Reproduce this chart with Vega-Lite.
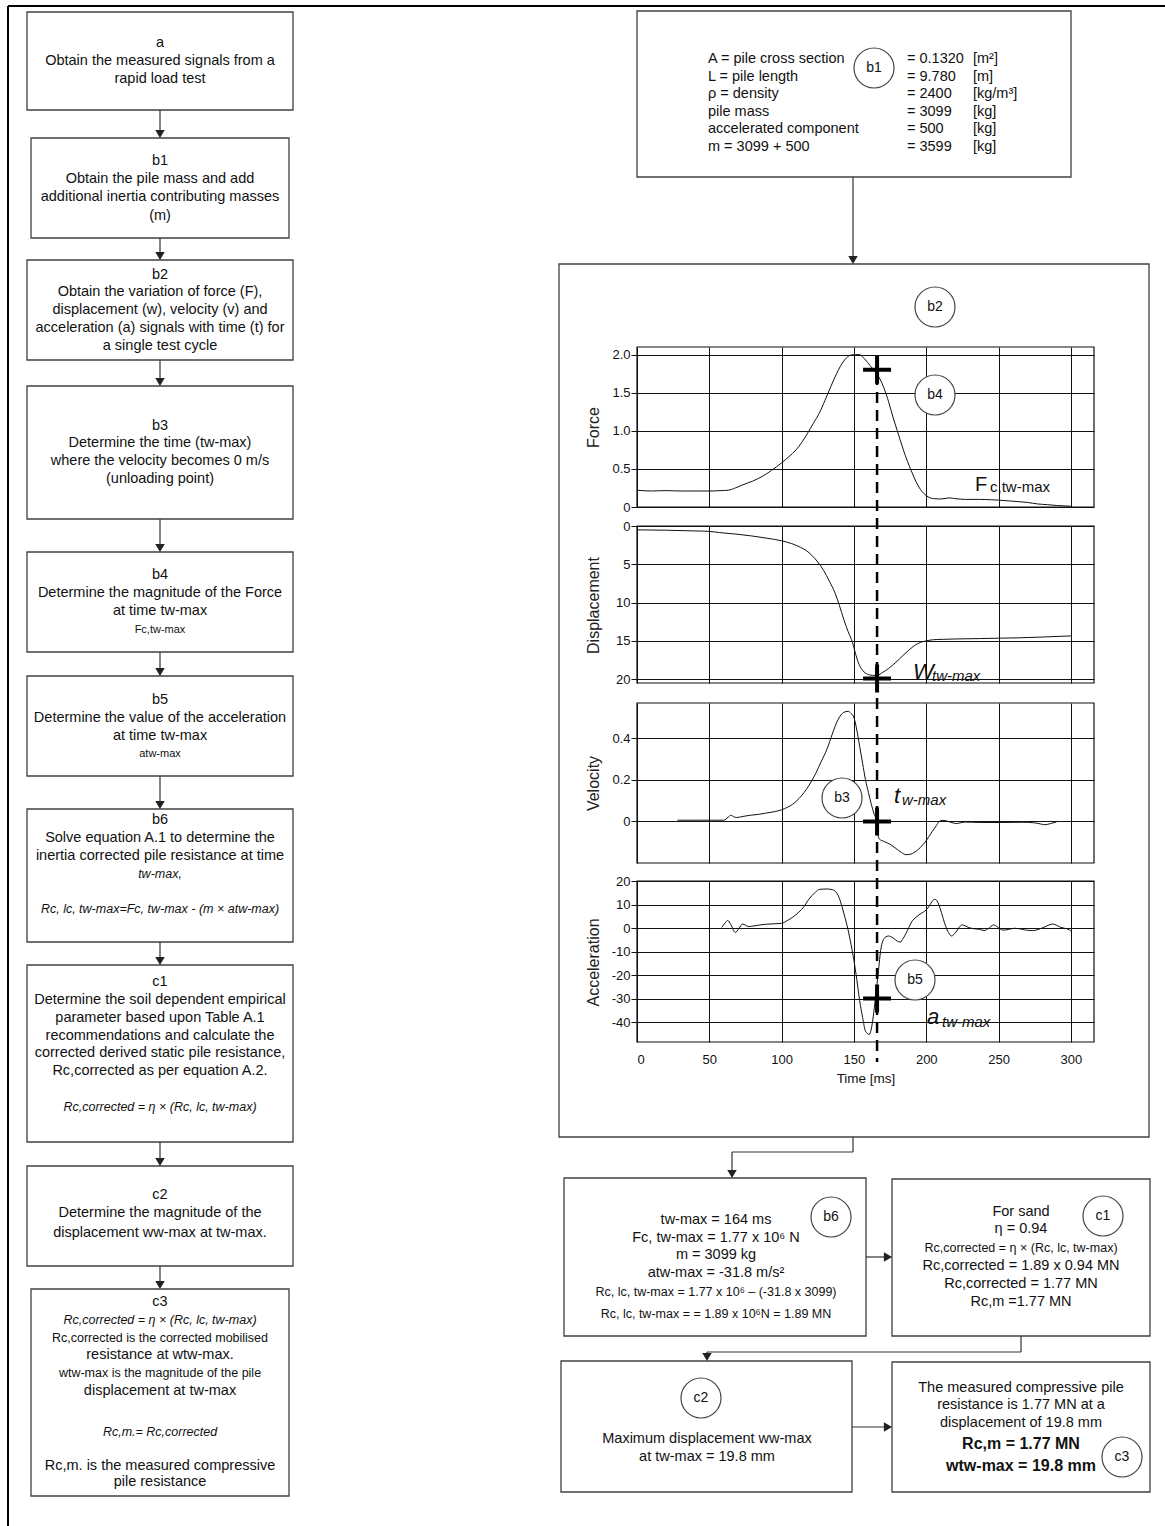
{
  "$schema": "https://vega.github.io/schema/vega-lite/v6.json",
  "width": 1165,
  "height": 1526,
  "padding": 0,
  "autosize": {"type": "none"},
  "background": "white",
  "config": {
    "view": {"stroke": null},
    "font": "Liberation Sans",
    "axis": {"labelFont": "Liberation Sans", "titleFont": "Liberation Sans"}
  },
  "datasets": {
    "force": [
      {"t":0,"F":0.22},{"t":10,"F":0.21},{"t":20,"F":0.215},{"t":30,"F":0.21},{"t":40,"F":0.21},{"t":50,"F":0.21},{"t":58,"F":0.215},{"t":63,"F":0.22},{"t":68,"F":0.25},{"t":73,"F":0.29},{"t":80,"F":0.34},{"t":86.5,"F":0.4},{"t":93,"F":0.48},{"t":100,"F":0.58},{"t":105,"F":0.66},{"t":110,"F":0.75},{"t":114,"F":0.85},{"t":118,"F":0.97},{"t":122,"F":1.1},{"t":126,"F":1.23},{"t":130,"F":1.4},{"t":134,"F":1.58},{"t":138,"F":1.75},{"t":142,"F":1.89},{"t":145,"F":1.96},{"t":148,"F":1.995},{"t":151,"F":2.0},{"t":154,"F":2.0},{"t":156,"F":1.97},{"t":158,"F":1.93},{"t":161,"F":1.86},{"t":164,"F":1.79},{"t":168,"F":1.68},{"t":171,"F":1.55},{"t":174,"F":1.38},{"t":177,"F":1.18},{"t":180,"F":1.0},{"t":184,"F":0.76},{"t":187,"F":0.6},{"t":190,"F":0.46},{"t":193,"F":0.33},{"t":196,"F":0.23},{"t":200,"F":0.15},{"t":205,"F":0.11},{"t":210,"F":0.105},{"t":216,"F":0.12},{"t":220,"F":0.11},{"t":227,"F":0.1},{"t":237,"F":0.1},{"t":245,"F":0.095},{"t":250,"F":0.09},{"t":257,"F":0.08},{"t":264,"F":0.07},{"t":270,"F":0.06},{"t":277,"F":0.04},{"t":284,"F":0.03},{"t":290,"F":0.02},{"t":300,"F":0.01}
    ],
    "disp": [
      {"t":0,"w":0.5},{"t":20,"w":0.55},{"t":39,"w":0.64},{"t":50,"w":0.7},{"t":57,"w":0.86},{"t":68,"w":1.05},{"t":78.6,"w":1.28},{"t":90,"w":1.6},{"t":100,"w":1.93},{"t":107,"w":2.3},{"t":113,"w":2.78},{"t":117,"w":3.2},{"t":121,"w":3.85},{"t":125,"w":4.7},{"t":129,"w":5.78},{"t":133,"w":7.2},{"t":137,"w":8.78},{"t":140,"w":10.4},{"t":143,"w":12.2},{"t":146,"w":13.8},{"t":149,"w":15.2},{"t":151,"w":16.6},{"t":153,"w":17.8},{"t":155,"w":18.6},{"t":157,"w":19.06},{"t":160,"w":19.4},{"t":163,"w":19.5},{"t":166,"w":19.5},{"t":170,"w":19.1},{"t":174,"w":18.6},{"t":179,"w":17.8},{"t":184,"w":16.9},{"t":188,"w":16.2},{"t":192,"w":15.6},{"t":196,"w":15.2},{"t":200,"w":15.0},{"t":205,"w":14.85},{"t":211,"w":14.8},{"t":220,"w":14.75},{"t":237,"w":14.7},{"t":250,"w":14.65},{"t":264,"w":14.6},{"t":280,"w":14.5},{"t":300,"w":14.35}
    ],
    "vel": [
      {"t":28,"v":0.006},{"t":45,"v":0.006},{"t":60,"v":0.006},{"t":63,"v":0.02},{"t":65,"v":0.03},{"t":67,"v":0.022},{"t":69,"v":0.019},{"t":74,"v":0.025},{"t":78.6,"v":0.03},{"t":84,"v":0.034},{"t":89,"v":0.04},{"t":95,"v":0.047},{"t":100,"v":0.056},{"t":104,"v":0.068},{"t":107.7,"v":0.083},{"t":112,"v":0.11},{"t":115.6,"v":0.14},{"t":119.5,"v":0.18},{"t":123.5,"v":0.23},{"t":127.5,"v":0.29},{"t":131.5,"v":0.35},{"t":135,"v":0.42},{"t":139,"v":0.49},{"t":143,"v":0.525},{"t":146,"v":0.53},{"t":148,"v":0.52},{"t":150,"v":0.5},{"t":152,"v":0.44},{"t":154,"v":0.36},{"t":156,"v":0.28},{"t":158,"v":0.2},{"t":160,"v":0.14},{"t":162,"v":0.083},{"t":164,"v":0.035},{"t":165.5,"v":0.005},{"t":166.5,"v":-0.06},{"t":167.5,"v":-0.084},{"t":171,"v":-0.097},{"t":175,"v":-0.11},{"t":179,"v":-0.13},{"t":183,"v":-0.15},{"t":186,"v":-0.16},{"t":189,"v":-0.158},{"t":192,"v":-0.148},{"t":196,"v":-0.125},{"t":200,"v":-0.092},{"t":204,"v":-0.05},{"t":207,"v":-0.02},{"t":209,"v":0.0},{"t":211,"v":0.005},{"t":213,"v":0.004},{"t":216,"v":-0.002},{"t":221,"v":-0.01},{"t":224,"v":-0.006},{"t":227,"v":-0.003},{"t":237,"v":-0.005},{"t":253,"v":-0.005},{"t":266,"v":-0.004},{"t":274,"v":-0.006},{"t":279,"v":-0.012},{"t":282,"v":-0.016},{"t":286,"v":-0.01},{"t":290,"v":-0.003}
    ],
    "acc": [
      {"t":58.7,"a":0.3},{"t":61,"a":2.2},{"t":62.7,"a":3.2},{"t":65,"a":1.3},{"t":68,"a":-1.9},{"t":70.6,"a":-0.1},{"t":73,"a":1.7},{"t":75,"a":1.2},{"t":77,"a":0.6},{"t":81,"a":0.9},{"t":85,"a":1.3},{"t":89,"a":1.6},{"t":95,"a":1.8},{"t":100,"a":2.0},{"t":104,"a":3.2},{"t":107.7,"a":4.6},{"t":112,"a":6.8},{"t":115.6,"a":9.2},{"t":118,"a":11.5},{"t":121,"a":13.8},{"t":123.5,"a":15.3},{"t":126,"a":16.4},{"t":131.5,"a":16.6},{"t":135,"a":16.3},{"t":138,"a":15},{"t":140,"a":12.5},{"t":142,"a":8.5},{"t":144,"a":4},{"t":146,"a":-0.9},{"t":148,"a":-7},{"t":150,"a":-13.8},{"t":152,"a":-22},{"t":154,"a":-31},{"t":156,"a":-38},{"t":158,"a":-43.9},{"t":160.6,"a":-45.3},{"t":162,"a":-43},{"t":163.5,"a":-37},{"t":165,"a":-29},{"t":166.5,"a":-21},{"t":168.5,"a":-9.5},{"t":170,"a":-5.5},{"t":172,"a":-3.8},{"t":174,"a":-3.4},{"t":177,"a":-4.2},{"t":180,"a":-5.6},{"t":182,"a":-6},{"t":184,"a":-4.5},{"t":186,"a":-2.3},{"t":188,"a":0.3},{"t":190,"a":2.7},{"t":193,"a":4.6},{"t":195,"a":5.6},{"t":198,"a":6.8},{"t":200,"a":7.7},{"t":202,"a":9.3},{"t":204,"a":11.3},{"t":206,"a":12.2},{"t":207.5,"a":11.5},{"t":209.5,"a":8.5},{"t":211.5,"a":4.5},{"t":213.5,"a":0.6},{"t":215.5,"a":-2},{"t":217.5,"a":-3.4},{"t":219.5,"a":-2.5},{"t":221.5,"a":-0.9},{"t":223,"a":0.5},{"t":225,"a":1.3},{"t":227,"a":0.9},{"t":229,"a":0.3},{"t":233,"a":-0.3},{"t":237,"a":-0.6},{"t":240,"a":-1.1},{"t":243,"a":-0.2},{"t":246.6,"a":1.3},{"t":249,"a":0.6},{"t":253,"a":-0.9},{"t":257,"a":-0.6},{"t":261,"a":-0.1},{"t":266,"a":-0.5},{"t":270,"a":-1.0},{"t":274,"a":-1.1},{"t":278,"a":-0.5},{"t":282,"a":0.5},{"t":285,"a":1.3},{"t":287.5,"a":1.7},{"t":290,"a":1.2},{"t":293,"a":0.3},{"t":295.5,"a":-0.1},{"t":298,"a":-0.5},{"t":300,"a":-1.3}
    ],
    "borders": [
      {"x":8,"y":6,"x2":1165,"y2":6},{"x":8,"y":6,"x2":8,"y2":1526}
    ],
    "links": [
      {"x":160,"y":110,"x2":160,"y2":136},{"x":160,"y":238,"x2":160,"y2":258},{"x":160,"y":360,"x2":160,"y2":384},{"x":160,"y":519,"x2":160,"y2":550},{"x":160,"y":652,"x2":160,"y2":674},{"x":160,"y":776,"x2":160,"y2":807},{"x":160,"y":942,"x2":160,"y2":963},{"x":160,"y":1142,"x2":160,"y2":1164},{"x":160,"y":1266,"x2":160,"y2":1287},
      {"x":853,"y":177,"x2":853,"y2":262},{"x":853,"y":1137,"x2":853,"y2":1152},{"x":853,"y":1152,"x2":732,"y2":1152},{"x":732,"y":1152,"x2":732,"y2":1176},{"x":866,"y":1257,"x2":890,"y2":1257},{"x":1021,"y":1336,"x2":1021,"y2":1352},{"x":1021,"y":1352,"x2":707,"y2":1352},{"x":707,"y":1352,"x2":707,"y2":1359},{"x":852,"y":1427,"x2":890,"y2":1427}
    ],
    "heads": [
      {"x":160,"y":134,"dir":"down"},{"x":160,"y":256,"dir":"down"},{"x":160,"y":382,"dir":"down"},{"x":160,"y":548,"dir":"down"},{"x":160,"y":672,"dir":"down"},{"x":160,"y":805,"dir":"down"},{"x":160,"y":961,"dir":"down"},{"x":160,"y":1162,"dir":"down"},{"x":160,"y":1285,"dir":"down"},{"x":853,"y":260,"dir":"down"},{"x":732,"y":1174,"dir":"down"},{"x":707,"y":1357,"dir":"down"},{"x":888,"y":1257,"dir":"right"},{"x":888,"y":1427,"dir":"right"}
    ],
    "boxes": [
      {"x":27,"y":12,"x2":293,"y2":110},{"x":31,"y":138,"x2":289,"y2":238},{"x":27,"y":260,"x2":293,"y2":360},{"x":27,"y":386,"x2":293,"y2":519},{"x":27,"y":552,"x2":293,"y2":652},{"x":27,"y":676,"x2":293,"y2":776},{"x":27,"y":809,"x2":293,"y2":942},{"x":27,"y":965,"x2":293,"y2":1142},{"x":27,"y":1166,"x2":293,"y2":1266},{"x":31,"y":1289,"x2":289,"y2":1496},
      {"x":637,"y":11,"x2":1071,"y2":177},{"x":559,"y":264,"x2":1149,"y2":1137},{"x":564,"y":1178,"x2":866,"y2":1336},{"x":892,"y":1179,"x2":1150,"y2":1336},{"x":561,"y":1361,"x2":852,"y2":1492},{"x":892,"y":1362,"x2":1150,"y2":1492}
    ],
    "frames": [
      {"x":637,"y":347,"x2":1094,"y2":507},{"x":637,"y":526,"x2":1094,"y2":683},{"x":637,"y":703,"x2":1094,"y2":863},{"x":637,"y":881,"x2":1094,"y2":1042}
    ],
    "tags": [
      {"x":874,"y":68,"label":"b1"},{"x":935,"y":307,"label":"b2"},{"x":935,"y":395,"label":"b4"},{"x":842,"y":798,"label":"b3"},{"x":915,"y":980,"label":"b5"},{"x":831,"y":1217,"label":"b6"},{"x":1103,"y":1216,"label":"c1"},{"x":701,"y":1398,"label":"c2"},{"x":1122,"y":1457,"label":"c3"}
    ],
    "tN": [
      {"x":160,"y":43,"text":"a"},{"x":160,"y":61,"text":"Obtain the measured signals from a"},{"x":160,"y":79,"text":"rapid load test"},
      {"x":160,"y":161,"text":"b1"},{"x":160,"y":179,"text":"Obtain the  pile mass and add"},{"x":160,"y":197,"text":"additional inertia contributing masses"},{"x":160,"y":216,"text":"(m)"},
      {"x":160,"y":275,"text":"b2"},{"x":160,"y":292,"text":"Obtain the variation of force (F),"},{"x":160,"y":310,"text":"displacement (w), velocity (v) and"},{"x":160,"y":328,"text":"acceleration (a) signals with time (t) for"},{"x":160,"y":346,"text":"a single test cycle"},
      {"x":160,"y":426,"text":"b3"},{"x":160,"y":443,"text":"Determine the time  (tw-max)"},{"x":160,"y":461,"text":"where the velocity becomes 0 m/s"},{"x":160,"y":479,"text":"(unloading point)"},
      {"x":160,"y":575,"text":"b4"},{"x":160,"y":593,"text":"Determine the magnitude of the Force"},{"x":160,"y":611,"text":"at time tw-max"},
      {"x":160,"y":700,"text":"b5"},{"x":160,"y":718,"text":"Determine the value of the acceleration"},{"x":160,"y":736,"text":"at time tw-max"},
      {"x":160,"y":820,"text":"b6"},{"x":160,"y":838,"text":"Solve equation A.1 to determine the"},{"x":160,"y":856,"text":"inertia corrected pile resistance at time"},
      {"x":160,"y":982,"text":"c1"},{"x":160,"y":1000,"text":"Determine the soil dependent empirical"},{"x":160,"y":1018,"text":"parameter based upon Table A.1"},{"x":160,"y":1036,"text":"recommendations and calculate the"},{"x":160,"y":1053,"text":"corrected derived static pile resistance,"},{"x":160,"y":1071,"text":"Rc,corrected as per equation A.2."},
      {"x":160,"y":1195,"text":"c2"},{"x":160,"y":1213,"text":"Determine the magnitude of the"},{"x":160,"y":1233,"text":"displacement ww-max at tw-max."},
      {"x":160,"y":1302,"text":"c3"},{"x":160,"y":1355,"text":"resistance at wtw-max."},{"x":160,"y":1391,"text":"displacement at tw-max"},{"x":160,"y":1466,"text":"Rc,m. is the measured compressive"},{"x":160,"y":1482,"text":"pile resistance"},
      {"x":716,"y":1220,"text":"tw-max = 164 ms"},{"x":716,"y":1238,"text":"Fc, tw-max = 1.77 x 10⁶ N"},{"x":716,"y":1255,"text":"m = 3099 kg"},{"x":716,"y":1273,"text":"atw-max = -31.8 m/s²"},
      {"x":1021,"y":1212,"text":"For sand"},{"x":1021,"y":1229,"text":"η = 0.94"},{"x":1021,"y":1266,"text":"Rc,corrected =  1.89 x 0.94 MN"},{"x":1021,"y":1284,"text":"Rc,corrected = 1.77 MN"},{"x":1021,"y":1302,"text":"Rc,m =1.77 MN"},
      {"x":707,"y":1439,"text":"Maximum displacement ww-max"},{"x":707,"y":1457,"text":"at tw-max = 19.8 mm"},
      {"x":1021,"y":1388,"text":"The measured compressive pile"},{"x":1021,"y":1405,"text":"resistance is 1.77 MN at a"},{"x":1021,"y":1423,"text":"displacement of 19.8 mm"}
    ],
    "tS": [
      {"x":160,"y":1338,"text":"Rc,corrected is the corrected mobilised"},{"x":160,"y":1373,"text":"wtw-max is the magnitude of the pile"},
      {"x":716,"y":1292,"text":"Rc, lc, tw-max = 1.77 x 10⁶ – (-31.8 x 3099)"},{"x":716,"y":1314,"text":"Rc, lc, tw-max =  = 1.89 x 10⁶N = 1.89 MN"},
      {"x":1021,"y":1248,"text":"Rc,corrected = η × (Rc, lc, tw-max)"}
    ],
    "tI": [
      {"x":160,"y":874,"text":"tw-max,"},{"x":160,"y":909,"text":"Rc, lc, tw-max=Fc, tw-max - (m × atw-max)"},{"x":160,"y":1107,"text":"Rc,corrected = η × (Rc, lc, tw-max)"},{"x":160,"y":1320,"text":"Rc,corrected = η × (Rc, lc, tw-max)"},{"x":160,"y":1432,"text":"Rc,m.= Rc,corrected"}
    ],
    "tT": [
      {"x":160,"y":630,"text":"Fc,tw-max"},{"x":160,"y":754,"text":"atw-max"}
    ],
    "tB": [
      {"x":1021,"y":1444,"text":"Rc,m = 1.77 MN"},{"x":1021,"y":1466,"text":"wtw-max = 19.8 mm"}
    ],
    "tL": [
      {"x":708,"y":59,"text":"A = pile cross section"},{"x":708,"y":76.5,"text":"L = pile length"},{"x":708,"y":94,"text":"ρ = density"},{"x":708,"y":111.5,"text":"pile mass"},{"x":708,"y":129,"text":"accelerated component"},{"x":708,"y":146.5,"text":"m = 3099 + 500"},
      {"x":907,"y":59,"text":"= 0.1320"},{"x":907,"y":76.5,"text":"= 9.780"},{"x":907,"y":94,"text":"= 2400"},{"x":907,"y":111.5,"text":"= 3099"},{"x":907,"y":129,"text":"= 500"},{"x":907,"y":146.5,"text":"= 3599"},
      {"x":973,"y":59,"text":"[m²]"},{"x":973,"y":76.5,"text":"[m]"},{"x":973,"y":94,"text":"[kg/m³]"},{"x":973,"y":111.5,"text":"[kg]"},{"x":973,"y":129,"text":"[kg]"},{"x":973,"y":146.5,"text":"[kg]"}
    ],
    "annBig": [{"x":975,"y":491,"text":"F"}],
    "annSub": [{"x":990,"y":492,"text":"c,tw-max"}],
    "annBigI": [{"x":913,"y":679,"text":"W"},{"x":894,"y":803,"text":"t"},{"x":927,"y":1024,"text":"a"}],
    "annSubI": [{"x":932,"y":681,"text":"tw-max"},{"x":902,"y":805,"text":"w-max"},{"x":942,"y":1027,"text":"tw-max"}]
  },
  "resolve": {"scale": {"x": "independent", "y": "independent"}, "axis": {"x": "independent", "y": "independent"}},
  "layer": [
    {
      "data": {"name": "force"},
      "encoding": {
        "x": {"field": "t", "type": "quantitative", "scale": {"domain": [0, 316], "range": [637, 1094], "nice": false, "zero": false},
          "axis": {"orient": "top", "values": [0, 50, 100, 150, 200, 250, 300], "grid": true, "gridColor": "#111", "gridWidth": 1, "gridOpacity": 1, "labels": false, "ticks": false, "domain": false, "title": null}},
        "y": {"field": "F", "type": "quantitative", "scale": {"domain": [0, 2.1], "range": [507, 347], "nice": false, "zero": false},
          "axis": {"orient": "left", "offset": -637, "values": [0, 0.5, 1, 1.5, 2], "labelExpr": "datum.value == 0 ? '0' : format(datum.value, '.1f')", "grid": true, "gridColor": "#111", "gridWidth": 1, "gridOpacity": 1, "domain": false, "ticks": true, "tickSize": 6, "tickColor": "#111", "labelPadding": 1, "labelFontSize": 13, "labelColor": "#111", "title": "Force", "titleFontSize": 16, "titleFontWeight": "normal", "titleColor": "#222", "titleX": -44, "titleY": 427, "titleAngle": -90, "titleAlign": "center", "titleBaseline": "middle"}}
      },
      "layer": [
        {"mark": {"type": "line", "color": "#111", "strokeWidth": 1, "interpolate": "monotone"}},
        {"data": {"values": [{"t": 166, "F": 1.8}]}, "mark": {"type": "point", "shape": "M-1,0L1,0M0,-1L0,1", "size": 784, "filled": false, "color": "#000", "strokeWidth": 4, "opacity": 1}}
      ]
    },
    {
      "data": {"name": "disp"},
      "encoding": {
        "x": {"field": "t", "type": "quantitative", "scale": {"domain": [0, 316], "range": [637, 1094], "nice": false, "zero": false},
          "axis": {"orient": "top", "values": [0, 50, 100, 150, 200, 250, 300], "grid": true, "gridColor": "#111", "gridWidth": 1, "gridOpacity": 1, "labels": false, "ticks": false, "domain": false, "title": null}},
        "y": {"field": "w", "type": "quantitative", "scale": {"domain": [0, 20.5], "range": [526, 683], "nice": false, "zero": false},
          "axis": {"orient": "left", "offset": -637, "values": [0, 5, 10, 15, 20], "grid": true, "gridColor": "#111", "gridWidth": 1, "gridOpacity": 1, "domain": false, "ticks": true, "tickSize": 6, "tickColor": "#111", "labelPadding": 1, "labelFontSize": 13, "labelColor": "#111", "title": "Displacement", "titleFontSize": 16, "titleFontWeight": "normal", "titleColor": "#222", "titleX": -44, "titleY": 605, "titleAngle": -90, "titleAlign": "center", "titleBaseline": "middle"}}
      },
      "layer": [
        {"mark": {"type": "line", "color": "#111", "strokeWidth": 1, "interpolate": "monotone"}},
        {"data": {"values": [{"t": 166, "w": 19.9}]}, "mark": {"type": "point", "shape": "M-1,0L1,0M0,-1L0,1", "size": 784, "filled": false, "color": "#000", "strokeWidth": 4, "opacity": 1}}
      ]
    },
    {
      "data": {"name": "vel"},
      "encoding": {
        "x": {"field": "t", "type": "quantitative", "scale": {"domain": [0, 316], "range": [637, 1094], "nice": false, "zero": false},
          "axis": {"orient": "top", "values": [0, 50, 100, 150, 200, 250, 300], "grid": true, "gridColor": "#111", "gridWidth": 1, "gridOpacity": 1, "labels": false, "ticks": false, "domain": false, "title": null}},
        "y": {"field": "v", "type": "quantitative", "scale": {"domain": [-0.2, 0.57], "range": [863, 703], "nice": false, "zero": false},
          "axis": {"orient": "left", "offset": -637, "values": [0, 0.2, 0.4], "labelExpr": "datum.value == 0 ? '0' : format(datum.value, '.1f')", "grid": true, "gridColor": "#111", "gridWidth": 1, "gridOpacity": 1, "domain": false, "ticks": true, "tickSize": 6, "tickColor": "#111", "labelPadding": 1, "labelFontSize": 13, "labelColor": "#111", "title": "Velocity", "titleFontSize": 16, "titleFontWeight": "normal", "titleColor": "#222", "titleX": -44, "titleY": 783, "titleAngle": -90, "titleAlign": "center", "titleBaseline": "middle"}}
      },
      "layer": [
        {"mark": {"type": "line", "color": "#111", "strokeWidth": 1, "interpolate": "monotone"}},
        {"data": {"values": [{"t": 166, "v": 0}]}, "mark": {"type": "point", "shape": "M-1,0L1,0M0,-1L0,1", "size": 784, "filled": false, "color": "#000", "strokeWidth": 4, "opacity": 1}}
      ]
    },
    {
      "data": {"name": "acc"},
      "mark": {"type": "line", "color": "#111", "strokeWidth": 1, "interpolate": "monotone"},
      "encoding": {
        "x": {"field": "t", "type": "quantitative", "scale": {"domain": [0, 316], "range": [637, 1094], "nice": false, "zero": false},
          "axis": {"orient": "top", "values": [0, 50, 100, 150, 200, 250, 300], "grid": true, "gridColor": "#111", "gridWidth": 1, "gridOpacity": 1, "labels": false, "ticks": false, "domain": false, "title": null}},
        "y": {"field": "a", "type": "quantitative", "scale": {"domain": [-48.5, 20], "range": [1042, 881], "nice": false, "zero": false},
          "axis": {"orient": "left", "offset": -637, "values": [-40, -30, -20, -10, 0, 10, 20], "labelExpr": "datum.value < 0 ? '-' + format(-datum.value, 'd') : format(datum.value, 'd')", "grid": true, "gridColor": "#111", "gridWidth": 1, "gridOpacity": 1, "domain": false, "ticks": true, "tickSize": 6, "tickColor": "#111", "labelPadding": 1, "labelFontSize": 13, "labelColor": "#111", "title": "Acceleration", "titleFontSize": 16, "titleFontWeight": "normal", "titleColor": "#222", "titleX": -44, "titleY": 962, "titleAngle": -90, "titleAlign": "center", "titleBaseline": "middle"}}
      }
    },
    {
      "data": {"values": [{"t": 166, "a": -30}]},
      "mark": {"type": "point", "shape": "M-1,0L1,0M0,-1L0,1", "size": 784, "filled": false, "color": "#000", "strokeWidth": 4, "opacity": 1},
      "encoding": {
        "x": {"field": "t", "type": "quantitative", "scale": {"domain": [0, 316], "range": [637, 1094], "nice": false, "zero": false},
          "axis": {"orient": "bottom", "offset": -484, "values": [0, 50, 100, 150, 200, 250, 300], "grid": false, "domain": false, "ticks": false, "labelPadding": 11, "labelFontSize": 13, "labelColor": "#111", "title": "Time [ms]", "titleFontSize": 13.5, "titleFontWeight": "normal", "titleColor": "#111", "titleY": 36, "titleBaseline": "middle"}},
        "y": {"field": "a", "type": "quantitative", "scale": {"domain": [-48.5, 20], "range": [1042, 881], "nice": false, "zero": false}, "axis": null}
      }
    },
    {
      "data": {"values": [{"t": 166, "y": 356, "y2": 1062}]},
      "mark": {"type": "rule", "color": "#000", "strokeWidth": 2.5, "strokeDash": [11, 7]},
      "encoding": {
        "x": {"field": "t", "type": "quantitative", "scale": {"domain": [0, 316], "range": [637, 1094], "nice": false, "zero": false}, "axis": null},
        "y": {"field": "y", "type": "quantitative", "scale": {"domain": [0, 1526], "range": [0, 1526], "nice": false, "zero": false}, "axis": null},
        "y2": {"field": "y2"}
      }
    },
    {
      "encoding": {
        "x": {"field": "x", "type": "quantitative", "scale": {"domain": [0, 1165], "range": [0, 1165], "nice": false, "zero": false}, "axis": null},
        "y": {"field": "y", "type": "quantitative", "scale": {"domain": [0, 1526], "range": [0, 1526], "nice": false, "zero": false}, "axis": null}
      },
      "layer": [
        {"data": {"name": "borders"}, "mark": {"type": "rule", "color": "#000", "strokeWidth": 2}, "encoding": {"x2": {"field": "x2"}, "y2": {"field": "y2"}}},
        {"data": {"name": "links"}, "mark": {"type": "rule", "color": "#333", "strokeWidth": 1.2}, "encoding": {"x2": {"field": "x2"}, "y2": {"field": "y2"}}},
        {"data": {"name": "boxes"}, "mark": {"type": "rect", "filled": false, "stroke": "#404040", "strokeWidth": 1.3}, "encoding": {"x2": {"field": "x2"}, "y2": {"field": "y2"}}},
        {"data": {"name": "frames"}, "mark": {"type": "rect", "filled": false, "stroke": "#111", "strokeWidth": 1.2}, "encoding": {"x2": {"field": "x2"}, "y2": {"field": "y2"}}},
        {"data": {"name": "heads"}, "mark": {"type": "point", "filled": true, "color": "#222", "size": 90, "opacity": 1},
          "encoding": {"shape": {"field": "dir", "type": "nominal", "scale": {"domain": ["down", "right"], "range": ["triangle-down", "triangle-right"]}, "legend": null}}},
        {"data": {"name": "tags"}, "mark": {"type": "point", "shape": "circle", "size": 1600, "filled": true, "fill": "white", "stroke": "#444", "strokeWidth": 1.2, "opacity": 1}},
        {"data": {"name": "tags"}, "mark": {"type": "text", "font": "Liberation Sans", "fontSize": 14, "color": "#111", "align": "center", "baseline": "middle"}, "encoding": {"text": {"field": "label"}}},
        {"data": {"name": "tN"}, "mark": {"type": "text", "font": "Liberation Sans", "fontSize": 14.5, "color": "#111", "align": "center", "baseline": "middle"}, "encoding": {"text": {"field": "text"}}},
        {"data": {"name": "tS"}, "mark": {"type": "text", "font": "Liberation Sans", "fontSize": 12.5, "color": "#111", "align": "center", "baseline": "middle"}, "encoding": {"text": {"field": "text"}}},
        {"data": {"name": "tI"}, "mark": {"type": "text", "font": "Liberation Sans", "fontSize": 12.5, "fontStyle": "italic", "color": "#111", "align": "center", "baseline": "middle"}, "encoding": {"text": {"field": "text"}}},
        {"data": {"name": "tT"}, "mark": {"type": "text", "font": "Liberation Sans", "fontSize": 11, "color": "#111", "align": "center", "baseline": "middle"}, "encoding": {"text": {"field": "text"}}},
        {"data": {"name": "tB"}, "mark": {"type": "text", "font": "Liberation Sans", "fontSize": 16, "fontWeight": "bold", "color": "#111", "align": "center", "baseline": "middle"}, "encoding": {"text": {"field": "text"}}},
        {"data": {"name": "tL"}, "mark": {"type": "text", "font": "Liberation Sans", "fontSize": 14.5, "color": "#111", "align": "left", "baseline": "middle"}, "encoding": {"text": {"field": "text"}}},
        {"data": {"name": "annBig"}, "mark": {"type": "text", "font": "Liberation Sans", "fontSize": 20, "color": "#111", "align": "left", "baseline": "alphabetic"}, "encoding": {"text": {"field": "text"}}},
        {"data": {"name": "annSub"}, "mark": {"type": "text", "font": "Liberation Sans", "fontSize": 15, "color": "#111", "align": "left", "baseline": "alphabetic"}, "encoding": {"text": {"field": "text"}}},
        {"data": {"name": "annBigI"}, "mark": {"type": "text", "font": "Liberation Sans", "fontSize": 22, "fontStyle": "italic", "color": "#111", "align": "left", "baseline": "alphabetic"}, "encoding": {"text": {"field": "text"}}},
        {"data": {"name": "annSubI"}, "mark": {"type": "text", "font": "Liberation Sans", "fontSize": 15, "fontStyle": "italic", "color": "#111", "align": "left", "baseline": "alphabetic"}, "encoding": {"text": {"field": "text"}}}
      ]
    }
  ]
}
